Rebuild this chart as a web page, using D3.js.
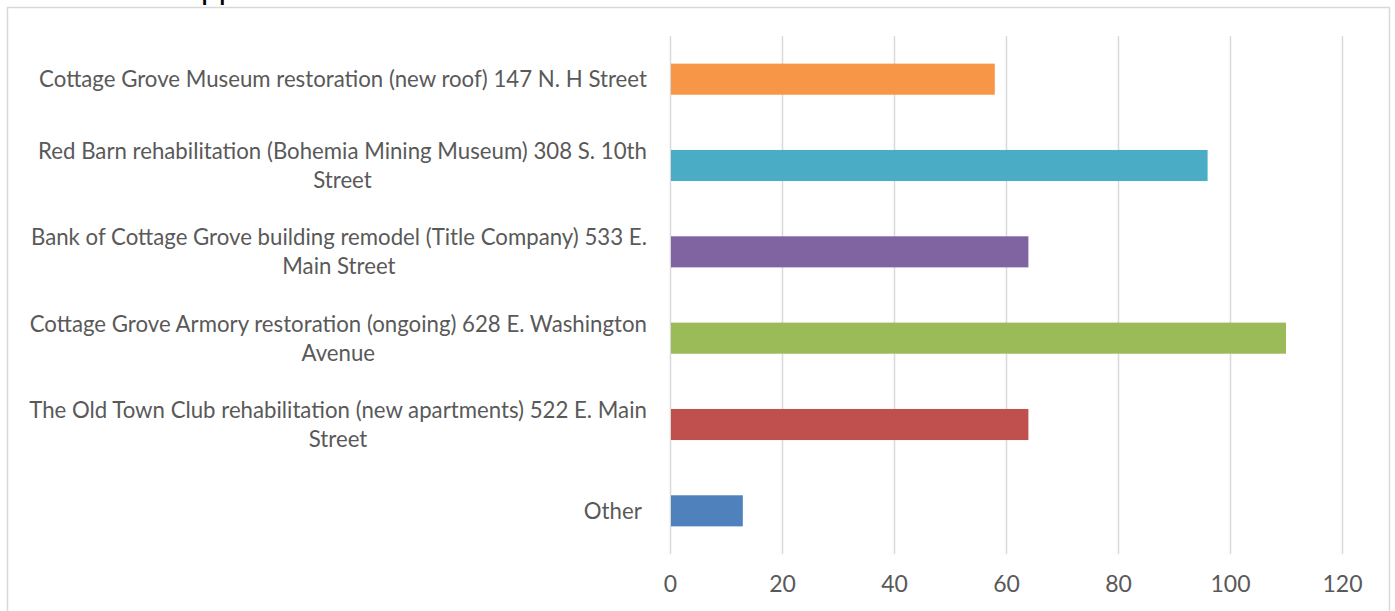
<!DOCTYPE html>
<html>
<head>
<meta charset="utf-8">
<script src="https://cdn.jsdelivr.net/npm/d3@7"></script>
<style>
  body { margin: 0; background: #fff; }
  text { font-family: Lato, "Open Sans", sans-serif; fill: #595959; }
</style>
</head>
<body>
<svg id="chart" width="1395" height="611"></svg>
<script>
// data, bottom to top as in the chart
const categories = [
  "Other ",
  "The Old Town Club rehabilitation (new apartments) 522 E. Main\nStreet",
  "Cottage Grove Armory restoration (ongoing) 628 E. Washington\nAvenue",
  "Bank of Cottage Grove building remodel (Title Company) 533 E.\nMain Street",
  "Red Barn rehabilitation (Bohemia Mining Museum) 308 S. 10th\nStreet",
  "Cottage Grove Museum restoration (new roof) 147 N. H Street"
];
const values = [13, 64, 110, 64, 96, 58];
const colors = ["#4F81BD", "#C0504D", "#9BBB59", "#8064A2", "#4BACC6", "#F79646"];
const xTicks = [0, 20, 40, 60, 80, 100, 120];

const svg = d3.select("#chart");

// title sits above the chart box, cut off
const title = svg.append("text")
  .attr("y", -2)
  .style("fill", "#000")
  .style("font-family", "'Liberation Sans', Arial, sans-serif")
  .attr("font-size", 32)
  .text("Support");
const suW = title.node().getSubStringLength(0, 2);
title.attr("x", 201 - suW);

// chart border
svg.append("rect")
  .attr("x", 7.5).attr("y", 7.5)
  .attr("width", 1382).attr("height", 620)
  .attr("fill", "none")
  .attr("stroke", "#d9d9d9")
  .attr("stroke-width", 1.5);

const plotTop = 36, plotBottom = 554;
const x = d3.scaleLinear().domain([0, 120]).range([670, 1342]);
const y = d3.scaleBand()
  .domain(d3.range(categories.length).reverse())
  .range([plotTop, plotBottom])
  .paddingInner(0.64)
  .paddingOuter(0.32);

// gridlines + tick labels
const axis = svg.append("g")
  .attr("transform", `translate(0,${plotBottom})`)
  .call(d3.axisBottom(x).tickValues(xTicks).tickSize(-(plotBottom - plotTop)).tickPadding(22));
axis.select(".domain").remove();
axis.selectAll(".tick line").attr("stroke", "#d9d9d9").attr("stroke-width", 1.5);
axis.selectAll(".tick text")
  .attr("font-size", 23)
  .attr("font-family", null)
  .style("fill", "#595959");

// bars
svg.selectAll(".bar")
  .data(values)
  .enter()
  .append("rect")
  .attr("class", "bar")
  .attr("x", x(0) + 1)
  .attr("y", (d, i) => y(i))
  .attr("width", d => x(d) - x(0) - 1)
  .attr("height", y.bandwidth())
  .attr("fill", (d, i) => colors[i]);

// category labels: block right aligned, lines centered in block
const labelRight = 647, lineH = 29, fs = 23;
const labels = svg.append("g");
// horizontal fit factor so the long line matches the reference width
const probe = labels.append("text").attr("font-size", fs).text(categories[5]);
const sx = 608 / probe.node().getComputedTextLength();
probe.remove();

categories.forEach((c, i) => {
  const lines = c.split("\n");
  const cy = y(i) + y.bandwidth() / 2;
  const g = labels.append("g");
  const t = g.append("text")
    .attr("font-size", fs)
    .attr("text-anchor", "middle")
    .style("white-space", "pre");
  lines.forEach((ln, j) => {
    t.append("tspan")
      .attr("x", 0)
      .attr("y", (j - (lines.length - 1) / 2) * lineH)
      .attr("dy", "0.35em")
      .text(ln);
  });
  const w = t.node().getComputedTextLength ? d3.max(lines, (ln, j) => t.selectAll("tspan").nodes()[j].getComputedTextLength()) * sx : 0;
  g.attr("transform", `translate(${labelRight - w / 2},${cy}) scale(${sx},1)`);
});
</script>
</body>
</html>
